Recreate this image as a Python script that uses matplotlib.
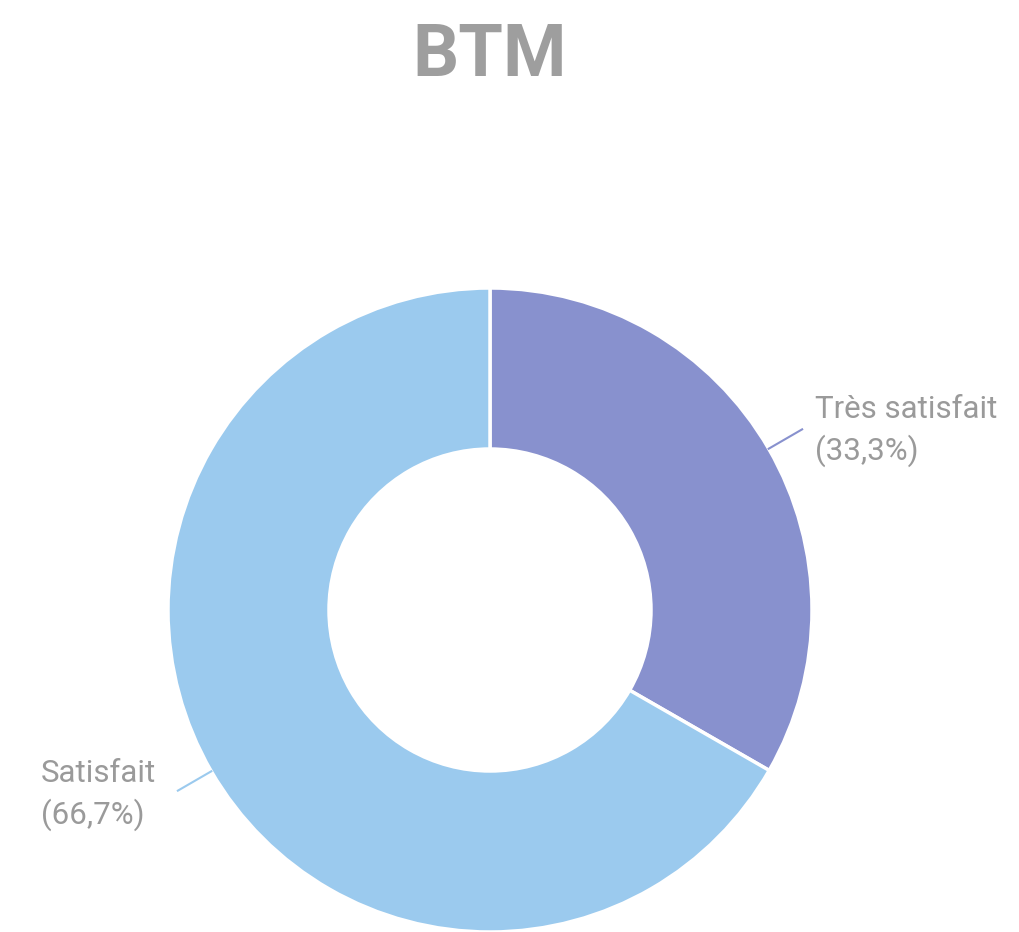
import matplotlib.pyplot as plt
import numpy as np

# --- data ---

labels = ["Très satisfait", "Satisfait"]
shares = [33.3, 66.7]
colors = ["#8891CE", "#9BCAEE"]

# --- figure ---

W, H = 1020, 932
fig = plt.figure(figsize=(W / 100, H / 100), dpi=100)
ax = fig.add_axes([0, 0, 1, 1])

cx, cy, r = 490, 322, 322
wedges, _ = ax.pie(
    shares,
    colors=colors,
    startangle=90,
    counterclock=False,
    center=(cx, cy),
    radius=r,
    frame=True,
    wedgeprops=dict(width=r * 0.5, edgecolor="white", linewidth=2.5),
)
ax.set_xlim(0, W)
ax.set_ylim(0, H)
ax.set_aspect("equal")
ax.axis("off")

# --- labels with leader lines ---

text_color = "#9A9A9A"
for w, lab, val in zip(wedges, labels, shares):
    ang = np.deg2rad((w.theta1 + w.theta2) / 2)
    x0, y0 = cx + r * np.cos(ang), cy + r * np.sin(ang)
    x1, y1 = cx + r * 1.12 * np.cos(ang), cy + r * 1.12 * np.sin(ang)
    ax.plot([x0, x1], [y0, y1], color=w.get_facecolor(), lw=1.5)
    txt = f"{lab}\n({val:.1f}%)".replace(".", ",")
    if np.cos(ang) > 0:
        tx, ty = x1 + 13, y1 - 2
    else:
        tx, ty = x1 - 137, y1 - 4
    ax.text(tx, ty, txt, ha="left", va="center", fontsize=22.5,
            color=text_color, family="Roboto", linespacing=1.42)

fig.text(490 / W, 1 - 56 / H, "BTM", ha="center", va="center", fontsize=52,
         fontweight="bold", color="#9E9E9E", family="Roboto")

fig.savefig("out.png", dpi=100)
